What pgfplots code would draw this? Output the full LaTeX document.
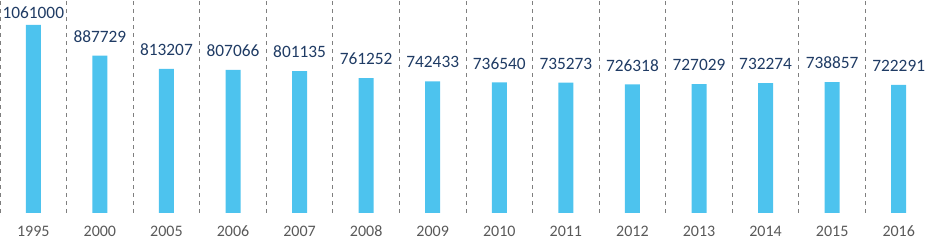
\documentclass[border=0pt]{standalone}
\usepackage{fontspec}
\setmainfont{Carlito}
\usepackage{pgfplots}
\pgfplotsset{compat=1.18}
\definecolor{barblue}{HTML}{4DC3EE}
\definecolor{labblue}{HTML}{1F3B64}
\definecolor{tickgray}{HTML}{595959}
\definecolor{gridgray}{HTML}{7F7F7F}
\begin{document}
\begin{tikzpicture}
\begin{axis}[
  name=ax,
  scale only axis,
  width=699pt, height=159.75pt,
  xmin=-0.5, xmax=13.5,
  ymin=0, ymax=1202000,
  axis line style={draw=none},
  tick style={draw=none},
  xtick={0,...,13},
  xticklabels={1995,2000,2005,2006,2007,2008,2009,2010,2011,2012,2013,2014,2015,2016},
  minor xtick={-0.5,0.5,...,13.5},
  xminorgrids=true,
  minor grid style={gridgray, dashed, line width=0.6pt},
  ytick=\empty,
  xticklabel style={font=\fontsize{12}{14}\selectfont, text=tickgray, anchor=base, yshift=-18pt},
  clip=false,
]
\addplot[ybar, bar width=11.25pt, fill=barblue, draw=none] coordinates {
(0,1061000) (1,887729) (2,813207) (3,807066) (4,801135) (5,761252) (6,742433)
(7,736540) (8,735273) (9,726318) (10,727029) (11,732274) (12,738857) (13,722291)};
\addplot[draw=none, mark=none, nodes near coords, point meta=explicit symbolic,
  every node near coord/.append style={anchor=center, yshift=14.25pt, text=labblue, font=\fontsize{13}{15}\selectfont}]
  coordinates {
(1,887729)[887729] (2,813207)[813207] (3,807066)[807066] (4,801135)[801135] (5,761252)[761252] (6,742433)[742433]
(7,736540)[736540] (8,735273)[735273] (9,726318)[726318] (10,727029)[727029] (11,732274)[732274] (12,738857)[738857] (13,722291)[722291]};
\addplot[draw=none, mark=none, nodes near coords, point meta=explicit symbolic,
  every node near coord/.append style={anchor=center, yshift=9pt, text=labblue, font=\fontsize{13}{15}\selectfont}]
  coordinates {(0,1061000)[1061000]};
\end{axis}
\pgfresetboundingbox
\path[use as bounding box] ([yshift=-21pt]ax.south west) rectangle (ax.north east);
\end{tikzpicture}
\end{document}
